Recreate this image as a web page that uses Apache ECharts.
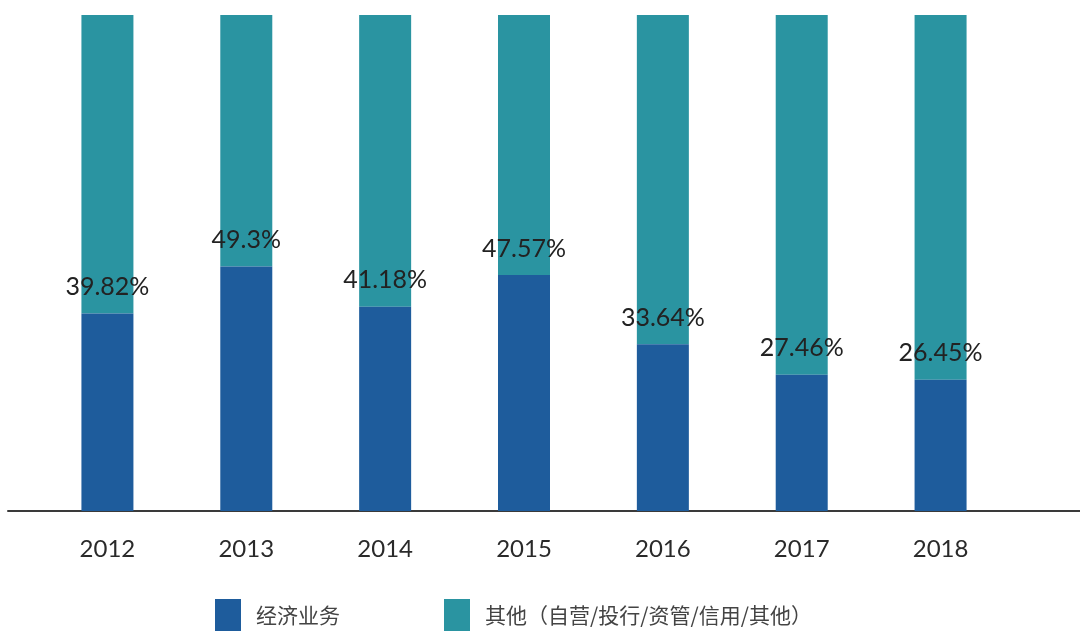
<!DOCTYPE html>
<html><head><meta charset="utf-8">
<script src="https://cdn.jsdelivr.net/npm/echarts@6/dist/echarts.min.js"></script>
<style>html,body{margin:0;padding:0;background:#fff}#c{width:1080px;height:644px}</style>
</head><body><div id="c"></div>
<script>
const categories = ['2012','2013','2014','2015','2016','2017','2018'];
const brokerage = [39.82, 49.3, 41.18, 47.57, 33.64, 27.46, 26.45];
const labels = ['39.82%','49.3%','41.18%','47.57%','33.64%','27.46%','26.45%'];
const seriesNames = ['经济业务','其他（自营/投行/资管/信用/其他）'];
const others = brokerage.map(v => +(100 - v).toFixed(2));

const chart = echarts.init(document.getElementById('c'));
chart.setOption({
  animation: false,
  grid: [
    {left: 38, right: 70, top: 15, bottom: 133},
    {left: 8, right: 0, top: 15, bottom: 133}
  ],
  xAxis: [
    {type: 'category', data: categories, gridIndex: 0,
     axisLine: {show: false}, axisTick: {show: false},
     axisLabel: {color: '#2a2a2a', fontSize: 24, margin: 26, fontFamily: 'Lato, "Noto Sans", sans-serif'}},
    {type: 'value', gridIndex: 1, min: 0, max: 1,
     axisLine: {show: true, lineStyle: {color: '#3a3a3a', width: 2}},
     axisTick: {show: false}, axisLabel: {show: false}, splitLine: {show: false}}
  ],
  yAxis: [
    {type: 'value', gridIndex: 0, min: 0, max: 100, show: false},
    {type: 'value', gridIndex: 1, min: 0, max: 1, show: false}
  ],
  legend: {
    bottom: 8, left: 210, itemWidth: 26, itemHeight: 32, itemGap: 104, icon: 'rect',
    textStyle: {color: '#444', fontSize: 21, fontFamily: '"Noto Sans CJK SC", sans-serif', padding: [0,0,0,10]},
    data: seriesNames
  },
  series: [
    {name: seriesNames[0], type: 'bar', stack: 's', barWidth: 52,
     itemStyle: {color: '#1e5c9c'}, data: brokerage,
     label: {show: true, position: 'top', distance: 14, color: '#222', fontSize: 25,
       fontFamily: 'Lato, "Noto Sans", sans-serif',
       formatter: p => labels[p.dataIndex]}},
    {name: seriesNames[1], type: 'bar', stack: 's', barWidth: 52,
     itemStyle: {color: '#2a94a1'}, data: others, z: 1}
  ]
});
</script></body></html>
